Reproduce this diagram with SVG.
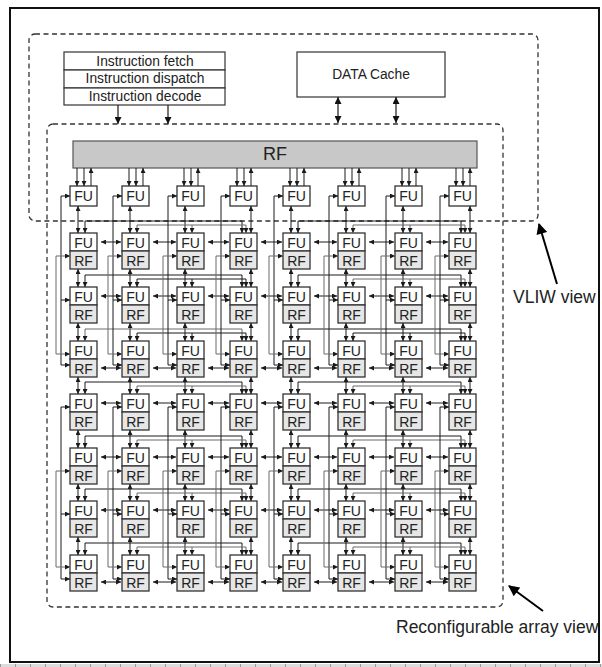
<svg xmlns="http://www.w3.org/2000/svg" width="602" height="667" viewBox="0 0 602 667">
<style>
.fu{fill:#fff;stroke:#333;stroke-width:1.3}
.rf{fill:#e6e6e6;stroke:#333;stroke-width:1.3}
.box{fill:#fff;stroke:#333;stroke-width:1.2}
.t{font-family:"Liberation Sans",Arial,sans-serif;font-size:14px;text-anchor:middle;fill:#222}
.lbl{font-family:"Liberation Sans",Arial,sans-serif;font-size:13.8px;text-anchor:middle;fill:#222}
.big{font-family:"Liberation Sans",Arial,sans-serif;font-size:17.5px;fill:#222}
.dash{fill:none;stroke:#333;stroke-width:1.3;stroke-dasharray:5 3.5}
.c line,.c path{fill:none;stroke:#1a1a1a;stroke-width:1}
.d{marker-start:url(#a);marker-end:url(#a)}
.e{marker-end:url(#a)}
.c .gy{stroke:#6a6a6a}
.c .db{marker-start:url(#b);marker-end:url(#b);stroke-width:1.2}
.c .eb{marker-end:url(#b);stroke-width:1.2}
.c .ptr{stroke:#000;stroke-width:2;marker-end:url(#p)}
</style>
<defs>
<marker id="a" viewBox="0 0 6 6" refX="6" refY="3" markerWidth="5" markerHeight="5" markerUnits="userSpaceOnUse" orient="auto-start-reverse"><path d="M0,0L6,3L0,6z" fill="#1a1a1a"/></marker>
<marker id="b" viewBox="0 0 8 8" refX="8" refY="4" markerWidth="8" markerHeight="7" markerUnits="userSpaceOnUse" orient="auto-start-reverse"><path d="M0,0L8,4L0,8z" fill="#111"/></marker>
<marker id="p" viewBox="0 0 10 10" refX="9" refY="5" markerWidth="13" markerHeight="11" markerUnits="userSpaceOnUse" orient="auto"><path d="M0,0L10,5L0,10z" fill="#000"/></marker>
</defs>
<rect x="0" y="0" width="602" height="667" fill="#fff"/>
<rect x="0" y="664" width="602" height="3" fill="#dcdcdc"/>
<line x1="0" y1="665.5" x2="602" y2="665.5" stroke="#999" stroke-width="3" stroke-dasharray="1 14"/>
<rect x="10" y="8" width="589" height="654" fill="none" stroke="#111" stroke-width="2"/>

<g id="vliw-region"><rect class="dash" x="29" y="34" width="509" height="187" rx="6"/></g>
<g id="array-region"><rect class="dash" x="47" y="124" width="456" height="483" rx="6"/></g>

<g id="instr">
<rect class="box" x="64" y="52" width="161" height="18"/>
<rect class="box" x="64" y="70" width="161" height="18"/>
<rect class="box" x="64" y="88" width="161" height="17"/>
<text class="lbl" x="145" y="65.5">Instruction fetch</text>
<text class="lbl" x="145" y="83">Instruction dispatch</text>
<text class="lbl" x="145" y="100.5">Instruction decode</text>
</g>
<g id="dcache"><rect class="box" x="297" y="52" width="148" height="45"/><text class="lbl" x="371" y="79">DATA Cache</text></g>
<g id="rfbar"><rect x="73" y="141" width="404" height="27" fill="#c8c8c8" stroke="#555" stroke-width="1.2"/><text x="275" y="160" font-family="Liberation Sans, Arial, sans-serif" font-size="18" text-anchor="middle" fill="#222">RF</text></g>

<g id="vliw-label"><text class="big" x="513" y="303">VLIW view</text></g>
<g id="array-label"><text class="big" x="396" y="633">Reconfigurable array view</text></g>

<g id="tfu0" transform="translate(70,186)"><rect class="fu" width="27" height="20"/><text class="t" x="13.5" y="15">FU</text></g>
<g id="tfu1" transform="translate(122,186)"><rect class="fu" width="27" height="20"/><text class="t" x="13.5" y="15">FU</text></g>
<g id="tfu2" transform="translate(177,186)"><rect class="fu" width="27" height="20"/><text class="t" x="13.5" y="15">FU</text></g>
<g id="tfu3" transform="translate(230,186)"><rect class="fu" width="27" height="20"/><text class="t" x="13.5" y="15">FU</text></g>
<g id="tfu4" transform="translate(283,186)"><rect class="fu" width="27" height="20"/><text class="t" x="13.5" y="15">FU</text></g>
<g id="tfu5" transform="translate(338,186)"><rect class="fu" width="27" height="20"/><text class="t" x="13.5" y="15">FU</text></g>
<g id="tfu6" transform="translate(395,186)"><rect class="fu" width="27" height="20"/><text class="t" x="13.5" y="15">FU</text></g>
<g id="tfu7" transform="translate(449,186)"><rect class="fu" width="27" height="20"/><text class="t" x="13.5" y="15">FU</text></g>

<g id="cells">
<g id="c10" transform="translate(70,233)"><rect class="fu" width="27" height="18"/><rect class="rf" y="18" width="27" height="18"/><text class="t" x="13.5" y="14.5">FU</text><text class="t" x="13.5" y="32.5">RF</text></g>
<g id="c11" transform="translate(122,233)"><rect class="fu" width="27" height="18"/><rect class="rf" y="18" width="27" height="18"/><text class="t" x="13.5" y="14.5">FU</text><text class="t" x="13.5" y="32.5">RF</text></g>
<g id="c12" transform="translate(177,233)"><rect class="fu" width="27" height="18"/><rect class="rf" y="18" width="27" height="18"/><text class="t" x="13.5" y="14.5">FU</text><text class="t" x="13.5" y="32.5">RF</text></g>
<g id="c13" transform="translate(230,233)"><rect class="fu" width="27" height="18"/><rect class="rf" y="18" width="27" height="18"/><text class="t" x="13.5" y="14.5">FU</text><text class="t" x="13.5" y="32.5">RF</text></g>
<g id="c14" transform="translate(283,233)"><rect class="fu" width="27" height="18"/><rect class="rf" y="18" width="27" height="18"/><text class="t" x="13.5" y="14.5">FU</text><text class="t" x="13.5" y="32.5">RF</text></g>
<g id="c15" transform="translate(338,233)"><rect class="fu" width="27" height="18"/><rect class="rf" y="18" width="27" height="18"/><text class="t" x="13.5" y="14.5">FU</text><text class="t" x="13.5" y="32.5">RF</text></g>
<g id="c16" transform="translate(395,233)"><rect class="fu" width="27" height="18"/><rect class="rf" y="18" width="27" height="18"/><text class="t" x="13.5" y="14.5">FU</text><text class="t" x="13.5" y="32.5">RF</text></g>
<g id="c17" transform="translate(449,233)"><rect class="fu" width="27" height="18"/><rect class="rf" y="18" width="27" height="18"/><text class="t" x="13.5" y="14.5">FU</text><text class="t" x="13.5" y="32.5">RF</text></g>

<g id="c20" transform="translate(70,287)"><rect class="fu" width="27" height="18"/><rect class="rf" y="18" width="27" height="18"/><text class="t" x="13.5" y="14.5">FU</text><text class="t" x="13.5" y="32.5">RF</text></g>
<g id="c21" transform="translate(122,287)"><rect class="fu" width="27" height="18"/><rect class="rf" y="18" width="27" height="18"/><text class="t" x="13.5" y="14.5">FU</text><text class="t" x="13.5" y="32.5">RF</text></g>
<g id="c22" transform="translate(177,287)"><rect class="fu" width="27" height="18"/><rect class="rf" y="18" width="27" height="18"/><text class="t" x="13.5" y="14.5">FU</text><text class="t" x="13.5" y="32.5">RF</text></g>
<g id="c23" transform="translate(230,287)"><rect class="fu" width="27" height="18"/><rect class="rf" y="18" width="27" height="18"/><text class="t" x="13.5" y="14.5">FU</text><text class="t" x="13.5" y="32.5">RF</text></g>
<g id="c24" transform="translate(283,287)"><rect class="fu" width="27" height="18"/><rect class="rf" y="18" width="27" height="18"/><text class="t" x="13.5" y="14.5">FU</text><text class="t" x="13.5" y="32.5">RF</text></g>
<g id="c25" transform="translate(338,287)"><rect class="fu" width="27" height="18"/><rect class="rf" y="18" width="27" height="18"/><text class="t" x="13.5" y="14.5">FU</text><text class="t" x="13.5" y="32.5">RF</text></g>
<g id="c26" transform="translate(395,287)"><rect class="fu" width="27" height="18"/><rect class="rf" y="18" width="27" height="18"/><text class="t" x="13.5" y="14.5">FU</text><text class="t" x="13.5" y="32.5">RF</text></g>
<g id="c27" transform="translate(449,287)"><rect class="fu" width="27" height="18"/><rect class="rf" y="18" width="27" height="18"/><text class="t" x="13.5" y="14.5">FU</text><text class="t" x="13.5" y="32.5">RF</text></g>

<g id="c30" transform="translate(70,341)"><rect class="fu" width="27" height="18"/><rect class="rf" y="18" width="27" height="18"/><text class="t" x="13.5" y="14.5">FU</text><text class="t" x="13.5" y="32.5">RF</text></g>
<g id="c31" transform="translate(122,341)"><rect class="fu" width="27" height="18"/><rect class="rf" y="18" width="27" height="18"/><text class="t" x="13.5" y="14.5">FU</text><text class="t" x="13.5" y="32.5">RF</text></g>
<g id="c32" transform="translate(177,341)"><rect class="fu" width="27" height="18"/><rect class="rf" y="18" width="27" height="18"/><text class="t" x="13.5" y="14.5">FU</text><text class="t" x="13.5" y="32.5">RF</text></g>
<g id="c33" transform="translate(230,341)"><rect class="fu" width="27" height="18"/><rect class="rf" y="18" width="27" height="18"/><text class="t" x="13.5" y="14.5">FU</text><text class="t" x="13.5" y="32.5">RF</text></g>
<g id="c34" transform="translate(283,341)"><rect class="fu" width="27" height="18"/><rect class="rf" y="18" width="27" height="18"/><text class="t" x="13.5" y="14.5">FU</text><text class="t" x="13.5" y="32.5">RF</text></g>
<g id="c35" transform="translate(338,341)"><rect class="fu" width="27" height="18"/><rect class="rf" y="18" width="27" height="18"/><text class="t" x="13.5" y="14.5">FU</text><text class="t" x="13.5" y="32.5">RF</text></g>
<g id="c36" transform="translate(395,341)"><rect class="fu" width="27" height="18"/><rect class="rf" y="18" width="27" height="18"/><text class="t" x="13.5" y="14.5">FU</text><text class="t" x="13.5" y="32.5">RF</text></g>
<g id="c37" transform="translate(449,341)"><rect class="fu" width="27" height="18"/><rect class="rf" y="18" width="27" height="18"/><text class="t" x="13.5" y="14.5">FU</text><text class="t" x="13.5" y="32.5">RF</text></g>

<g id="c40" transform="translate(70,394)"><rect class="fu" width="27" height="18"/><rect class="rf" y="18" width="27" height="18"/><text class="t" x="13.5" y="14.5">FU</text><text class="t" x="13.5" y="32.5">RF</text></g>
<g id="c41" transform="translate(122,394)"><rect class="fu" width="27" height="18"/><rect class="rf" y="18" width="27" height="18"/><text class="t" x="13.5" y="14.5">FU</text><text class="t" x="13.5" y="32.5">RF</text></g>
<g id="c42" transform="translate(177,394)"><rect class="fu" width="27" height="18"/><rect class="rf" y="18" width="27" height="18"/><text class="t" x="13.5" y="14.5">FU</text><text class="t" x="13.5" y="32.5">RF</text></g>
<g id="c43" transform="translate(230,394)"><rect class="fu" width="27" height="18"/><rect class="rf" y="18" width="27" height="18"/><text class="t" x="13.5" y="14.5">FU</text><text class="t" x="13.5" y="32.5">RF</text></g>
<g id="c44" transform="translate(283,394)"><rect class="fu" width="27" height="18"/><rect class="rf" y="18" width="27" height="18"/><text class="t" x="13.5" y="14.5">FU</text><text class="t" x="13.5" y="32.5">RF</text></g>
<g id="c45" transform="translate(338,394)"><rect class="fu" width="27" height="18"/><rect class="rf" y="18" width="27" height="18"/><text class="t" x="13.5" y="14.5">FU</text><text class="t" x="13.5" y="32.5">RF</text></g>
<g id="c46" transform="translate(395,394)"><rect class="fu" width="27" height="18"/><rect class="rf" y="18" width="27" height="18"/><text class="t" x="13.5" y="14.5">FU</text><text class="t" x="13.5" y="32.5">RF</text></g>
<g id="c47" transform="translate(449,394)"><rect class="fu" width="27" height="18"/><rect class="rf" y="18" width="27" height="18"/><text class="t" x="13.5" y="14.5">FU</text><text class="t" x="13.5" y="32.5">RF</text></g>

<g id="c50" transform="translate(70,448)"><rect class="fu" width="27" height="18"/><rect class="rf" y="18" width="27" height="18"/><text class="t" x="13.5" y="14.5">FU</text><text class="t" x="13.5" y="32.5">RF</text></g>
<g id="c51" transform="translate(122,448)"><rect class="fu" width="27" height="18"/><rect class="rf" y="18" width="27" height="18"/><text class="t" x="13.5" y="14.5">FU</text><text class="t" x="13.5" y="32.5">RF</text></g>
<g id="c52" transform="translate(177,448)"><rect class="fu" width="27" height="18"/><rect class="rf" y="18" width="27" height="18"/><text class="t" x="13.5" y="14.5">FU</text><text class="t" x="13.5" y="32.5">RF</text></g>
<g id="c53" transform="translate(230,448)"><rect class="fu" width="27" height="18"/><rect class="rf" y="18" width="27" height="18"/><text class="t" x="13.5" y="14.5">FU</text><text class="t" x="13.5" y="32.5">RF</text></g>
<g id="c54" transform="translate(283,448)"><rect class="fu" width="27" height="18"/><rect class="rf" y="18" width="27" height="18"/><text class="t" x="13.5" y="14.5">FU</text><text class="t" x="13.5" y="32.5">RF</text></g>
<g id="c55" transform="translate(338,448)"><rect class="fu" width="27" height="18"/><rect class="rf" y="18" width="27" height="18"/><text class="t" x="13.5" y="14.5">FU</text><text class="t" x="13.5" y="32.5">RF</text></g>
<g id="c56" transform="translate(395,448)"><rect class="fu" width="27" height="18"/><rect class="rf" y="18" width="27" height="18"/><text class="t" x="13.5" y="14.5">FU</text><text class="t" x="13.5" y="32.5">RF</text></g>
<g id="c57" transform="translate(449,448)"><rect class="fu" width="27" height="18"/><rect class="rf" y="18" width="27" height="18"/><text class="t" x="13.5" y="14.5">FU</text><text class="t" x="13.5" y="32.5">RF</text></g>

<g id="c60" transform="translate(70,501)"><rect class="fu" width="27" height="18"/><rect class="rf" y="18" width="27" height="18"/><text class="t" x="13.5" y="14.5">FU</text><text class="t" x="13.5" y="32.5">RF</text></g>
<g id="c61" transform="translate(122,501)"><rect class="fu" width="27" height="18"/><rect class="rf" y="18" width="27" height="18"/><text class="t" x="13.5" y="14.5">FU</text><text class="t" x="13.5" y="32.5">RF</text></g>
<g id="c62" transform="translate(177,501)"><rect class="fu" width="27" height="18"/><rect class="rf" y="18" width="27" height="18"/><text class="t" x="13.5" y="14.5">FU</text><text class="t" x="13.5" y="32.5">RF</text></g>
<g id="c63" transform="translate(230,501)"><rect class="fu" width="27" height="18"/><rect class="rf" y="18" width="27" height="18"/><text class="t" x="13.5" y="14.5">FU</text><text class="t" x="13.5" y="32.5">RF</text></g>
<g id="c64" transform="translate(283,501)"><rect class="fu" width="27" height="18"/><rect class="rf" y="18" width="27" height="18"/><text class="t" x="13.5" y="14.5">FU</text><text class="t" x="13.5" y="32.5">RF</text></g>
<g id="c65" transform="translate(338,501)"><rect class="fu" width="27" height="18"/><rect class="rf" y="18" width="27" height="18"/><text class="t" x="13.5" y="14.5">FU</text><text class="t" x="13.5" y="32.5">RF</text></g>
<g id="c66" transform="translate(395,501)"><rect class="fu" width="27" height="18"/><rect class="rf" y="18" width="27" height="18"/><text class="t" x="13.5" y="14.5">FU</text><text class="t" x="13.5" y="32.5">RF</text></g>
<g id="c67" transform="translate(449,501)"><rect class="fu" width="27" height="18"/><rect class="rf" y="18" width="27" height="18"/><text class="t" x="13.5" y="14.5">FU</text><text class="t" x="13.5" y="32.5">RF</text></g>

<g id="c70" transform="translate(70,555)"><rect class="fu" width="27" height="18"/><rect class="rf" y="18" width="27" height="18"/><text class="t" x="13.5" y="14.5">FU</text><text class="t" x="13.5" y="32.5">RF</text></g>
<g id="c71" transform="translate(122,555)"><rect class="fu" width="27" height="18"/><rect class="rf" y="18" width="27" height="18"/><text class="t" x="13.5" y="14.5">FU</text><text class="t" x="13.5" y="32.5">RF</text></g>
<g id="c72" transform="translate(177,555)"><rect class="fu" width="27" height="18"/><rect class="rf" y="18" width="27" height="18"/><text class="t" x="13.5" y="14.5">FU</text><text class="t" x="13.5" y="32.5">RF</text></g>
<g id="c73" transform="translate(230,555)"><rect class="fu" width="27" height="18"/><rect class="rf" y="18" width="27" height="18"/><text class="t" x="13.5" y="14.5">FU</text><text class="t" x="13.5" y="32.5">RF</text></g>
<g id="c74" transform="translate(283,555)"><rect class="fu" width="27" height="18"/><rect class="rf" y="18" width="27" height="18"/><text class="t" x="13.5" y="14.5">FU</text><text class="t" x="13.5" y="32.5">RF</text></g>
<g id="c75" transform="translate(338,555)"><rect class="fu" width="27" height="18"/><rect class="rf" y="18" width="27" height="18"/><text class="t" x="13.5" y="14.5">FU</text><text class="t" x="13.5" y="32.5">RF</text></g>
<g id="c76" transform="translate(395,555)"><rect class="fu" width="27" height="18"/><rect class="rf" y="18" width="27" height="18"/><text class="t" x="13.5" y="14.5">FU</text><text class="t" x="13.5" y="32.5">RF</text></g>
<g id="c77" transform="translate(449,555)"><rect class="fu" width="27" height="18"/><rect class="rf" y="18" width="27" height="18"/><text class="t" x="13.5" y="14.5">FU</text><text class="t" x="13.5" y="32.5">RF</text></g>
</g>

<g id="connectors" class="c">
<line class="eb" x1="118" y1="105" x2="118" y2="124"/>
<line class="eb" x1="168" y1="105" x2="168" y2="124"/>
<line class="db" x1="338" y1="97" x2="338" y2="123"/>
<line class="db" x1="396" y1="97" x2="396" y2="123"/>
<line class="ptr" x1="557" y1="284" x2="539" y2="224"/>
<line class="ptr" x1="543" y1="611" x2="509" y2="586"/>

<line class="e" x1="77" y1="168" x2="77" y2="186"/><line class="e" x1="84" y1="168" x2="84" y2="186"/><line class="e" x1="91" y1="186" x2="91" y2="168"/>
<line class="e" x1="129" y1="168" x2="129" y2="186"/><line class="e" x1="136" y1="168" x2="136" y2="186"/><line class="e" x1="143" y1="186" x2="143" y2="168"/>
<line class="e" x1="184" y1="168" x2="184" y2="186"/><line class="e" x1="191" y1="168" x2="191" y2="186"/><line class="e" x1="198" y1="186" x2="198" y2="168"/>
<line class="e" x1="237" y1="168" x2="237" y2="186"/><line class="e" x1="244" y1="168" x2="244" y2="186"/><line class="e" x1="251" y1="186" x2="251" y2="168"/>
<line class="e" x1="290" y1="168" x2="290" y2="186"/><line class="e" x1="297" y1="168" x2="297" y2="186"/><line class="e" x1="304" y1="186" x2="304" y2="168"/>
<line class="e" x1="345" y1="168" x2="345" y2="186"/><line class="e" x1="352" y1="168" x2="352" y2="186"/><line class="e" x1="359" y1="186" x2="359" y2="168"/>
<line class="e" x1="402" y1="168" x2="402" y2="186"/><line class="e" x1="409" y1="168" x2="409" y2="186"/><line class="e" x1="416" y1="186" x2="416" y2="168"/>
<line class="e" x1="456" y1="168" x2="456" y2="186"/><line class="e" x1="463" y1="168" x2="463" y2="186"/><line class="e" x1="470" y1="186" x2="470" y2="168"/>

<line class="d" x1="78" y1="206" x2="78" y2="233"/><line class="d" x1="130" y1="206" x2="130" y2="233"/><line class="d" x1="185" y1="206" x2="185" y2="233"/><line class="d" x1="251" y1="206" x2="251" y2="233"/><line class="d" x1="291" y1="206" x2="291" y2="233"/><line class="d" x1="346" y1="206" x2="346" y2="233"/><line class="d" x1="403" y1="206" x2="403" y2="233"/><line class="d" x1="470" y1="206" x2="470" y2="233"/>
<line class="d" x1="78" y1="269" x2="78" y2="287"/><line class="d" x1="130" y1="269" x2="130" y2="287"/><line class="d" x1="185" y1="269" x2="185" y2="287"/><line class="d" x1="251" y1="269" x2="251" y2="287"/><line class="d" x1="291" y1="269" x2="291" y2="287"/><line class="d" x1="346" y1="269" x2="346" y2="287"/><line class="d" x1="403" y1="269" x2="403" y2="287"/><line class="d" x1="470" y1="269" x2="470" y2="287"/>
<line class="d" x1="78" y1="323" x2="78" y2="341"/><line class="d" x1="130" y1="323" x2="130" y2="341"/><line class="d" x1="185" y1="323" x2="185" y2="341"/><line class="d" x1="251" y1="323" x2="251" y2="341"/><line class="d" x1="291" y1="323" x2="291" y2="341"/><line class="d" x1="346" y1="323" x2="346" y2="341"/><line class="d" x1="403" y1="323" x2="403" y2="341"/><line class="d" x1="470" y1="323" x2="470" y2="341"/>
<line class="d" x1="78" y1="377" x2="78" y2="394"/><line class="d" x1="130" y1="377" x2="130" y2="394"/><line class="d" x1="185" y1="377" x2="185" y2="394"/><line class="d" x1="251" y1="377" x2="251" y2="394"/><line class="d" x1="291" y1="377" x2="291" y2="394"/><line class="d" x1="346" y1="377" x2="346" y2="394"/><line class="d" x1="403" y1="377" x2="403" y2="394"/><line class="d" x1="470" y1="377" x2="470" y2="394"/>
<line class="d" x1="78" y1="430" x2="78" y2="448"/><line class="d" x1="130" y1="430" x2="130" y2="448"/><line class="d" x1="185" y1="430" x2="185" y2="448"/><line class="d" x1="251" y1="430" x2="251" y2="448"/><line class="d" x1="291" y1="430" x2="291" y2="448"/><line class="d" x1="346" y1="430" x2="346" y2="448"/><line class="d" x1="403" y1="430" x2="403" y2="448"/><line class="d" x1="470" y1="430" x2="470" y2="448"/>
<line class="d" x1="78" y1="484" x2="78" y2="501"/><line class="d" x1="130" y1="484" x2="130" y2="501"/><line class="d" x1="185" y1="484" x2="185" y2="501"/><line class="d" x1="251" y1="484" x2="251" y2="501"/><line class="d" x1="291" y1="484" x2="291" y2="501"/><line class="d" x1="346" y1="484" x2="346" y2="501"/><line class="d" x1="403" y1="484" x2="403" y2="501"/><line class="d" x1="470" y1="484" x2="470" y2="501"/>
<line class="d" x1="78" y1="537" x2="78" y2="555"/><line class="d" x1="130" y1="537" x2="130" y2="555"/><line class="d" x1="185" y1="537" x2="185" y2="555"/><line class="d" x1="251" y1="537" x2="251" y2="555"/><line class="d" x1="291" y1="537" x2="291" y2="555"/><line class="d" x1="346" y1="537" x2="346" y2="555"/><line class="d" x1="403" y1="537" x2="403" y2="555"/><line class="d" x1="470" y1="537" x2="470" y2="555"/>

<path class="d" d="M85,233V221H242V233"/><path class="d gy" d="M137,233V225H246V233"/><path class="e gy" d="M192,225V233"/>
<path class="d" d="M298,233V221H461V233"/><path class="d gy" d="M353,233V225H465V233"/><path class="e gy" d="M410,225V233"/>
<path class="d" d="M85,287V275H242V287"/><path class="d" d="M137,287V279H246V287"/><path class="e" d="M192,279V287"/>
<path class="d" d="M298,287V275H461V287"/><path class="d gy" d="M353,287V279H465V287"/><path class="e gy" d="M410,279V287"/>
<path class="d gy" d="M85,341V329H242V341"/><path class="d" d="M137,341V333H246V341"/><path class="e" d="M192,333V341"/>
<path class="d" d="M298,341V329H461V341"/><path class="d" d="M353,341V333H465V341"/><path class="e" d="M410,333V341"/>
<path class="d" d="M85,394V382H242V394"/><path class="d gy" d="M137,394V386H246V394"/><path class="e gy" d="M192,386V394"/>
<path class="d" d="M298,394V382H461V394"/><path class="d gy" d="M353,394V386H465V394"/><path class="e gy" d="M410,386V394"/>
<path class="d" d="M85,448V436H242V448"/><path class="d gy" d="M137,448V440H246V448"/><path class="e gy" d="M192,440V448"/>
<path class="d" d="M298,448V436H461V448"/><path class="d gy" d="M353,448V440H465V448"/><path class="e gy" d="M410,440V448"/>
<path class="d" d="M85,501V489H242V501"/><path class="d gy" d="M137,501V493H246V501"/><path class="e gy" d="M192,493V501"/>
<path class="d" d="M298,501V489H461V501"/><path class="d gy" d="M353,501V493H465V501"/><path class="e gy" d="M410,493V501"/>
<path class="d" d="M85,555V543H242V555"/><path class="d gy" d="M137,555V547H246V555"/><path class="e gy" d="M192,547V555"/>
<path class="d" d="M298,555V543H461V555"/><path class="d gy" d="M353,555V547H465V555"/><path class="e gy" d="M410,547V555"/>

<line class="d" x1="101" y1="242" x2="121" y2="242"/><line class="d" x1="153" y1="242" x2="176" y2="242"/><line class="d" x1="208" y1="242" x2="229" y2="242"/><line class="d" x1="261" y1="242" x2="282" y2="242"/><line class="d" x1="314" y1="242" x2="337" y2="242"/><line class="d" x1="369" y1="242" x2="394" y2="242"/><line class="d" x1="426" y1="242" x2="448" y2="242"/>
<line class="d" x1="101" y1="296" x2="121" y2="296"/><line class="d" x1="153" y1="296" x2="176" y2="296"/><line class="d" x1="208" y1="296" x2="229" y2="296"/><line class="d" x1="261" y1="296" x2="282" y2="296"/><line class="d" x1="314" y1="296" x2="337" y2="296"/><line class="d" x1="369" y1="296" x2="394" y2="296"/><line class="d" x1="426" y1="296" x2="448" y2="296"/>
<line class="d" x1="101" y1="368" x2="121" y2="368"/><line class="d" x1="153" y1="368" x2="176" y2="368"/><line class="d" x1="208" y1="368" x2="229" y2="368"/><line class="d" x1="261" y1="368" x2="282" y2="368"/><line class="d" x1="314" y1="368" x2="337" y2="368"/><line class="d" x1="369" y1="368" x2="394" y2="368"/><line class="d" x1="426" y1="368" x2="448" y2="368"/>
<line class="d" x1="101" y1="403" x2="121" y2="403"/><line class="d" x1="153" y1="403" x2="176" y2="403"/><line class="d" x1="208" y1="403" x2="229" y2="403"/><line class="d" x1="261" y1="403" x2="282" y2="403"/><line class="d" x1="314" y1="403" x2="337" y2="403"/><line class="d" x1="369" y1="403" x2="394" y2="403"/><line class="d" x1="426" y1="403" x2="448" y2="403"/>
<line class="d" x1="101" y1="457" x2="121" y2="457"/><line class="d" x1="153" y1="457" x2="176" y2="457"/><line class="d" x1="208" y1="457" x2="229" y2="457"/><line class="d" x1="261" y1="457" x2="282" y2="457"/><line class="d" x1="314" y1="457" x2="337" y2="457"/><line class="d" x1="369" y1="457" x2="394" y2="457"/><line class="d" x1="426" y1="457" x2="448" y2="457"/>
<line class="d" x1="101" y1="510" x2="121" y2="510"/><line class="d" x1="153" y1="510" x2="176" y2="510"/><line class="d" x1="208" y1="510" x2="229" y2="510"/><line class="d" x1="261" y1="510" x2="282" y2="510"/><line class="d" x1="314" y1="510" x2="337" y2="510"/><line class="d" x1="369" y1="510" x2="394" y2="510"/><line class="d" x1="426" y1="510" x2="448" y2="510"/>
<line class="d" x1="101" y1="582" x2="121" y2="582"/><line class="d" x1="153" y1="582" x2="176" y2="582"/><line class="d" x1="208" y1="582" x2="229" y2="582"/><line class="d" x1="261" y1="582" x2="282" y2="582"/><line class="d" x1="314" y1="582" x2="337" y2="582"/><line class="d" x1="369" y1="582" x2="394" y2="582"/><line class="d" x1="426" y1="582" x2="448" y2="582"/>

<path class="d" d="M70,196H61V365H70"/><path class="e" d="M61,300H70"/><path class="d gy" d="M70,256H56V354H70"/><path class="d" d="M70,407H61V579H70"/><path class="e" d="M61,514H70"/><path class="d gy" d="M70,471H56V567H70"/>
<path class="d" d="M122,196H113V365H122"/><path class="e" d="M113,300H122"/><path class="d gy" d="M122,256H108V354H122"/><path class="d" d="M122,407H113V579H122"/><path class="e" d="M113,514H122"/><path class="d gy" d="M122,471H108V567H122"/>
<path class="d" d="M177,196H168V365H177"/><path class="e" d="M168,300H177"/><path class="d gy" d="M177,256H163V354H177"/><path class="d" d="M177,407H168V579H177"/><path class="e" d="M168,514H177"/><path class="d gy" d="M177,471H163V567H177"/>
<path class="d" d="M230,196H221V365H230"/><path class="e" d="M221,300H230"/><path class="d gy" d="M230,256H216V354H230"/><path class="d" d="M230,407H221V579H230"/><path class="e" d="M221,514H230"/><path class="d gy" d="M230,471H216V567H230"/>
<path class="d" d="M283,196H274V365H283"/><path class="e" d="M274,300H283"/><path class="d gy" d="M283,256H269V354H283"/><path class="d" d="M283,407H274V579H283"/><path class="e" d="M274,514H283"/><path class="d gy" d="M283,471H269V567H283"/>
<path class="d" d="M338,196H329V365H338"/><path class="e" d="M329,300H338"/><path class="d gy" d="M338,256H324V354H338"/><path class="d" d="M338,407H329V579H338"/><path class="e" d="M329,514H338"/><path class="d gy" d="M338,471H324V567H338"/>
<path class="d" d="M395,196H386V365H395"/><path class="e" d="M386,300H395"/><path class="d gy" d="M395,256H381V354H395"/><path class="d" d="M395,407H386V579H395"/><path class="e" d="M386,514H395"/><path class="d gy" d="M395,471H381V567H395"/>
<path class="d" d="M449,196H440V365H449"/><path class="e" d="M440,300H449"/><path class="d gy" d="M449,256H435V354H449"/><path class="d" d="M449,407H440V579H449"/><path class="e" d="M440,514H449"/><path class="d gy" d="M449,471H435V567H449"/>
</g>
</svg>
